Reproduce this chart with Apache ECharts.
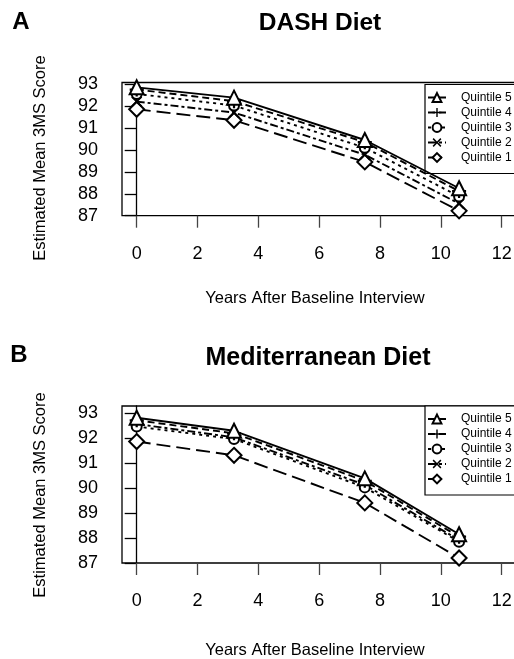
<!DOCTYPE html>
<html>
<head>
<meta charset="utf-8">
<script src="https://cdn.jsdelivr.net/npm/echarts@6/dist/echarts.min.js"></script>
<style>html,body{margin:0;padding:0;background:#fff;}#c{width:514px;height:659px;}</style>
</head>
<body>
<div id="c"></div>
<script>
// ---- data ----
var xYears = [0, 3.2, 7.5, 10.6];
var xTicks = [0, 2, 4, 6, 8, 10, 12];
var yTicks = [87, 88, 89, 90, 91, 92, 93];
var quintileNames = ['Quintile 5', 'Quintile 4', 'Quintile 3', 'Quintile 2', 'Quintile 1'];

var dashQ5 = [92.85, 92.38, 90.45, 88.25];
var dashQ4 = [92.75, 92.22, 90.35, 88.12];
var dashQ3 = [92.55, 92.02, 90.10, 87.88];
var dashQ2 = [92.20, 91.70, 89.78, 87.55];
var dashQ1 = [91.85, 91.35, 89.45, 87.22];

var medQ5 = [92.80, 92.28, 90.38, 88.15];
var medQ4 = [92.70, 92.18, 90.28, 88.05];
var medQ3 = [92.45, 91.95, 90.02, 87.85];
var medQ2 = [92.55, 92.02, 90.12, 87.92];
var medQ1 = [91.85, 91.30, 89.40, 87.20];

var panelTitles = ['DASH Diet', 'Mediterranean Diet'];
var panelLetters = ['A', 'B'];
var xTitle = 'Years After Baseline Interview';
var yTitle = 'Estimated Mean 3MS Score';

// ---- styles ----
var FONT = '"Liberation Sans", Arial, sans-serif';
var plusPath = 'path://M4.2,0H5.8V4.2H10V5.8H5.8V10H4.2V5.8H0V4.2H4.2Z';
var xPath = 'path://M1.2,0L5,3.8L8.8,0L10,1.2L6.2,5L10,8.8L8.8,10L5,6.2L1.2,10L0,8.8L3.8,5L0,1.2Z';
var seriesStyles = [
  {symbol: 'emptyTriangle', size: 14, dash: 'solid'},
  {symbol: plusPath, size: 14, dash: [7, 4]},
  {symbol: 'emptyCircle', size: 10, dash: [3, 4]},
  {symbol: xPath, size: 11, dash: [8, 3, 3, 3]},
  {symbol: 'emptyDiamond', size: 15, dash: [14, 6]}
];

function pairs(ys) { return xYears.map(function (x, i) { return [x, ys[i]]; }); }

function makeSeries(dataSets, idx) {
  return dataSets.map(function (ys, k) {
    var st = seriesStyles[k];
    return {
      name: quintileNames[k],
      type: 'line',
      xAxisIndex: idx, yAxisIndex: idx,
      data: pairs(ys),
      symbol: st.symbol,
      symbolSize: st.size,
      lineStyle: {color: '#000', width: 1.9, type: st.dash},
      itemStyle: {color: '#000', borderColor: '#000', borderWidth: st.symbol.indexOf('empty') === 0 ? 2 : 0},
      emphasis: {disabled: true},
      z: 10 - k
    };
  });
}

var grids = [
  {left: 122, top: 82.5, width: 397, height: 133.2, show: true, borderColor: '#000', borderWidth: 1.3, outerBoundsMode: 'none'},
  {left: 122, top: 406, width: 397, height: 157, show: true, borderColor: '#000', borderWidth: 1.3, outerBoundsMode: 'none'}
];
var yMax = [93.07, 93.27];

function xAxis(i) {
  return {
    type: 'value', gridIndex: i, min: -0.483, max: 12.57,
    axisLine: {show: false},
    splitLine: {show: false},
    axisTick: {show: true, length: 12, customValues: xTicks, lineStyle: {color: '#444', width: 1.3}},
    axisLabel: {customValues: xTicks, margin: 29, fontSize: 18, color: '#000', fontFamily: FONT}
  };
}
function yAxis(i) {
  return {
    type: 'value', gridIndex: i, min: 87, max: yMax[i],
    axisLine: {show: true, lineStyle: {color: '#000', width: 1.3}},
    splitLine: {show: false},
    axisTick: {show: true, length: 12, customValues: yTicks, lineStyle: {color: '#000', width: 1.3}},
    axisLabel: {customValues: yTicks, margin: 24, fontSize: 18, color: '#000', fontFamily: FONT}
  };
}
function legend(top, names) {
  return {
    orient: 'vertical', left: 425, top: top,
    data: names,
    itemWidth: 18, itemHeight: 11, itemGap: 3,
    padding: [7, 30, 10, 2],
    borderColor: '#000', borderWidth: 1.2, backgroundColor: '#fff',
    textStyle: {fontSize: 12, color: '#000', fontFamily: FONT, padding: [0, 0, 0, 10]},
    selectedMode: false
  };
}

function txt(x, y, text, size, bold, rot) {
  return {
    type: 'text', x: x, y: y, rotation: rot || 0,
    style: {text: text, fontSize: size, fontWeight: bold ? 'bold' : 'normal', fontFamily: FONT, fill: '#000', align: 'center', verticalAlign: 'middle'}
  };
}

var chart = echarts.init(document.getElementById('c'), null, {renderer: 'canvas'});
var seriesA = makeSeries([dashQ5, dashQ4, dashQ3, dashQ2, dashQ1], 0);
var seriesB = makeSeries([medQ5, medQ4, medQ3, medQ2, medQ1], 1);
var namesB = quintileNames.map(function (n) { return n + ' '; });
seriesB.forEach(function (s, k) { s.name = namesB[k]; });

chart.setOption({
  animation: false,
  backgroundColor: '#fff',
  grid: grids,
  xAxis: [xAxis(0), xAxis(1)],
  yAxis: [yAxis(0), yAxis(1)],
  legend: [legend(84.5, quintileNames), legend(406, namesB)],
  series: seriesA.concat(seriesB),
  graphic: [
    txt(21, 22, panelLetters[0], 24, true),
    txt(320, 23, panelTitles[0], 24.5, true),
    txt(40, 158, yTitle, 16.5, false, Math.PI / 2),
    txt(315, 298, xTitle, 16.5, false),
    txt(19, 355, panelLetters[1], 24, true),
    txt(318, 358, panelTitles[1], 25, true),
    txt(40, 495, yTitle, 16.5, false, Math.PI / 2),
    txt(315, 650, xTitle, 16.5, false)
  ]
});
</script>
</body>
</html>
